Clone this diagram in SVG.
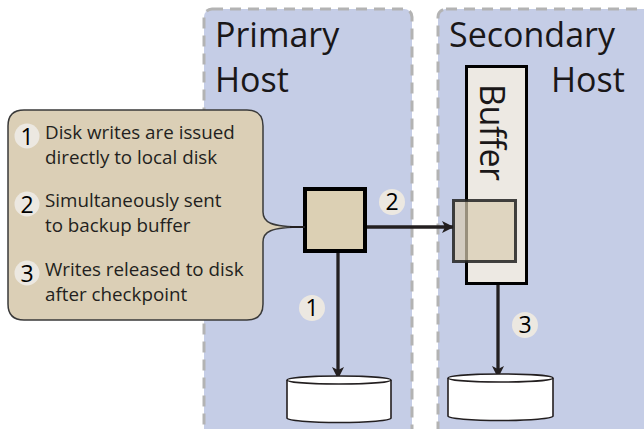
<svg xmlns="http://www.w3.org/2000/svg" width="644" height="429" viewBox="0 0 644 429">
  <style>
    .host { fill: #c5cde6; stroke: #b3b3b3; stroke-width: 3; stroke-dasharray: 11 7; }
    .title { font-family: "Open Sans", "Liberation Sans", sans-serif; font-size: 34px; fill: #1a1718; }
    .note { font-family: "Open Sans", "Liberation Sans", sans-serif; font-size: 18.8px; fill: #231f20; }
    .num { font-family: "Open Sans", "Liberation Sans", sans-serif; font-size: 23px; fill: #000; text-anchor: middle; }
    .badge { fill: #ece8e1; }
    .wire { stroke: #231f20; stroke-width: 3.3; fill: none; }
    .disk { fill: #ffffff; stroke: #231f20; stroke-width: 1.6; }
  </style>
  <defs>
    <marker id="head" viewBox="0 0 12 12" refX="11" refY="6" markerWidth="12" markerHeight="12" markerUnits="userSpaceOnUse" orient="auto">
      <path d="M0,0 L12,6 L0,12 L3,6 Z" fill="#231f20"/>
    </marker>
  </defs>

  <rect width="644" height="429" fill="#ffffff"/>

  <!-- host panels -->
  <g id="primary-host">
    <rect class="host" x="204" y="9" width="208" height="432" rx="8"/>
    <text class="title" x="215" y="47">Primary</text>
    <text class="title" x="215" y="92">Host</text>
  </g>
  <g id="secondary-host">
    <rect class="host" x="438" y="9" width="230" height="432" rx="8"/>
    <text class="title" x="449" y="47">Secondary</text>
    <text class="title" x="551" y="92">Host</text>
  </g>

  <!-- connectors -->
  <g id="connectors">
    <line class="wire" x1="367" y1="227" x2="453" y2="227" marker-end="url(#head)"/>
    <line class="wire" x1="338" y1="253" x2="338" y2="378" marker-end="url(#head)"/>
    <line class="wire" x1="498" y1="285" x2="498" y2="377" marker-end="url(#head)"/>
  </g>

  <!-- buffer on the secondary host -->
  <g id="buffer">
    <rect x="466.5" y="66.5" width="60" height="217" fill="#ede9e3" stroke="#000" stroke-width="3"/>
    <text class="title" transform="translate(480,84) rotate(90)" font-size="30" textLength="97" lengthAdjust="spacing">Buffer</text>
  </g>

  <!-- write request on the primary host -->
  <g id="write">
    <rect x="305" y="189" width="60" height="62" fill="#dcd0b4" stroke="#000" stroke-width="4"/>
  </g>

  <!-- buffered copy of the write -->
  <g id="buffered-write">
    <rect x="453.5" y="200.5" width="62" height="61" fill="#d9ccb0" fill-opacity="0.7" stroke="#222" stroke-opacity="0.85" stroke-width="3"/>
  </g>

  <!-- disks -->
  <g id="disk-primary">
    <path class="disk" d="M287,380 L287,418 A52,4.5 0 0 0 391,418 L391,380"/>
    <ellipse class="disk" cx="339" cy="380" rx="52" ry="4"/>
  </g>
  <g id="disk-secondary">
    <path class="disk" d="M448,378 L448,416 A52.5,4.5 0 0 0 553,416 L553,378"/>
    <ellipse class="disk" cx="500.5" cy="378" rx="52.5" ry="4"/>
  </g>

  <!-- step badges -->
  <g id="step-1">
    <circle class="badge" cx="312" cy="308" r="13"/>
    <text class="num" x="312" y="316">1</text>
  </g>
  <g id="step-2">
    <circle class="badge" cx="392" cy="202" r="13"/>
    <text class="num" x="392" y="210">2</text>
  </g>
  <g id="step-3">
    <circle class="badge" cx="525" cy="325" r="13"/>
    <text class="num" x="525" y="333">3</text>
  </g>

  <!-- callout listing the steps -->
  <g id="callout">
    <path d="M24,110 L247,110 Q263,110 263,126 L263,212 C263,222 270,227 303,227 C270,227 263,232 263,242 L263,304 Q263,320 247,320 L24,320 Q8,320 8,304 L8,126 Q8,110 24,110 Z" fill="#dbcfb6" stroke="#3a3a3a" stroke-width="1.5"/>
    <line x1="290" y1="227" x2="305" y2="227" stroke="#231f20" stroke-width="2"/>
    <circle class="badge" cx="27" cy="136" r="12.5"/>
    <text class="num" x="27" y="145" font-size="24">1</text>
    <text class="note" x="45" y="139">Disk writes are issued</text>
    <text class="note" x="45" y="164">directly to local disk</text>
    <circle class="badge" cx="27" cy="204" r="12.5"/>
    <text class="num" x="27" y="213" font-size="24">2</text>
    <text class="note" x="45" y="207">Simultaneously sent</text>
    <text class="note" x="45" y="232">to backup buffer</text>
    <circle class="badge" cx="27" cy="273" r="12.5"/>
    <text class="num" x="27" y="282" font-size="24">3</text>
    <text class="note" x="45" y="276">Writes released to disk</text>
    <text class="note" x="45" y="301">after checkpoint</text>
  </g>
</svg>
